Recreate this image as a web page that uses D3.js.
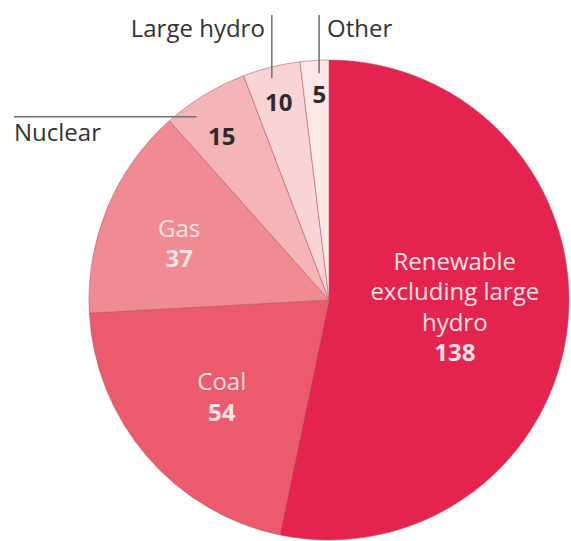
<!DOCTYPE html>
<html>
<head>
<meta charset="utf-8">
<script src="https://cdn.jsdelivr.net/npm/d3@7"></script>
<style>
  body { margin: 0; background: #fff; }
  svg { display: block; }
  text { font-family: "Open Sans", sans-serif; }
</style>
</head>
<body>
<svg id="pie" width="571" height="541"></svg>
<script>
// Data
const categories = ["Renewable excluding large hydro", "Coal", "Gas", "Nuclear", "Large hydro", "Other"];
const values = [138, 54, 37, 15, 10, 5];

// Label text, split into lines (inside labels) or kept outside with a leader
const insideNames = [["Renewable", "excluding large", "hydro"], ["Coal"], ["Gas"], [], [], []];
const outsideNames = [null, null, null, "Nuclear", "Large hydro", "Other"];

// Styles / layout
const colors = ["#e4234f", "#ec5b6d", "#f18b93", "#f5b4b8", "#f9d4d6", "#fce8e9"];
const labelRadius = [126, 145, 160, 195, 203, 205];
const labelFrac = [0.487, 0.478, 0.46, 0.40, 0.47, 0.61];
const lightText = "#fde2e6";
const darkText = "#2b2b2b";

const svg = d3.select("#pie");
const cx = 329, cy = 300, radius = 240;

const g = svg.append("g").attr("transform", `translate(${cx},${cy})`);

const pie = d3.pie().sort(null).value(d => d.value);
const arcs = pie(categories.map((c, i) => ({ name: c, value: values[i], i })));

const arc = d3.arc().innerRadius(0).outerRadius(radius);

g.selectAll("path")
    .data(arcs)
    .join("path")
    .attr("d", arc)
    .attr("fill", d => colors[d.data.i])
    .attr("stroke", "#b2525f")
    .attr("stroke-opacity", 0.55)
    .attr("stroke-width", 1);

// point at a fraction of a slice's angle, at a given radius
function pointAt(d, frac, r) {
    const a = d.startAngle + frac * (d.endAngle - d.startAngle);
    return [r * Math.sin(a), -r * Math.cos(a)];
}

// Inside labels
const lineH = 30.5;
arcs.forEach(d => {
    const i = d.data.i;
    const lines = insideNames[i];
    const c = pointAt(d, labelFrac[i], labelRadius[i]);
    const n = lines.length + 1;
    const top = c[1] - (n - 1) * lineH / 2 + 8;
    const fill = i < 3 ? lightText : darkText;
    const t = g.append("text")
        .attr("text-anchor", "middle")
        .attr("font-size", 24)
        .attr("fill", fill);
    lines.forEach((s, k) => {
        t.append("tspan").attr("x", c[0]).attr("y", top + k * lineH).text(s);
    });
    t.append("tspan")
        .attr("x", c[0])
        .attr("y", top + lines.length * lineH)
        .attr("font-weight", "bold")
        .text(values[i]);
});

// Outside labels with leader lines
const leader = { 3: [0.28, 226], 4: [0.46, 229], 5: [0.64, 227] };
const lineColor = "#6e6e6e";
const topY = 15 - cy;

arcs.forEach(d => {
    const i = d.data.i;
    if (!outsideNames[i]) return;
    const [f, r] = leader[i];
    const p = pointAt(d, f, r);
    if (i === 3) {
        const x0 = 14 - cx;
        g.append("line")
            .attr("x1", x0).attr("y1", p[1])
            .attr("x2", p[0]).attr("y2", p[1])
            .attr("stroke", lineColor).attr("stroke-width", 1.5);
        g.append("text")
            .attr("x", x0).attr("y", p[1] + 24)
            .attr("font-size", 24).attr("fill", "#333")
            .text(outsideNames[i]);
    } else {
        g.append("line")
            .attr("x1", p[0]).attr("y1", topY)
            .attr("x2", p[0]).attr("y2", p[1])
            .attr("stroke", lineColor).attr("stroke-width", 1.5);
        const right = i === 4;
        g.append("text")
            .attr("x", p[0] + (right ? -7 : 8))
            .attr("y", 37 - cy)
            .attr("text-anchor", right ? "end" : "start")
            .attr("font-size", 24).attr("fill", "#333")
            .text(outsideNames[i]);
    }
});
</script>
</body>
</html>
